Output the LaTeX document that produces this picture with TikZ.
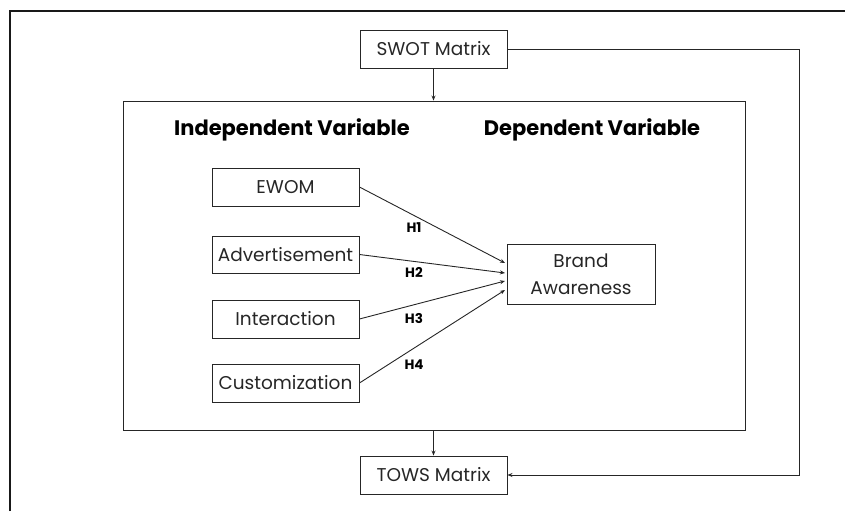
\documentclass[tikz,border=0pt]{standalone}
\usepackage{fontspec}
\setmainfont{Poppins}
\usetikzlibrary{arrows.meta,calc}
\begin{document}
\begin{tikzpicture}[x=1pt,y=-1pt,
  box/.style={draw=black!85,line width=0.9pt,rectangle,inner sep=0pt,minimum width=147pt,minimum height=38pt,font=\fontsize{18.5}{20}\selectfont,text=black!85},
  conn/.style={draw=black!85,line width=0.9pt,-{Stealth[length=5pt,width=4pt]}},
  hlab/.style={font=\bfseries\fontsize{13.5}{15}\selectfont},
  head/.style={font=\bfseries\fontsize{21}{24}\selectfont}]
\useasboundingbox (0,0) rectangle (845,511);
\draw[line width=1.8pt,black!90] (10,511) -- (10,11) -- (845,11);
\node[draw=black!85,line width=0.9pt,minimum width=622pt,minimum height=329pt,inner sep=0pt] (main) at (434,265.5) {};
\node[box] (swot) at (433.5,49) {SWOT Matrix};
\node[box] (tows) at (433.5,475) {TOWS Matrix};
\node[head] (ind) at (292,130) {Independent Variable};
\node[head] (dep) at (592,130) {Dependent Variable};
\node[box] (ewom) at (285.5,187) {EWOM};
\node[box,minimum height=37pt] (adv) at (285.5,254.5) {Advertisement};
\node[box] (inter) at (285.5,319) {Interaction};
\node[box] (cust) at (285.5,383) {Customization};
\node[box,minimum width=148pt,minimum height=60pt,align=center,font=\fontsize{18.5}{27}\selectfont] (brand) at (581,274) {Brand\\Awareness};
\coordinate (b1) at (505,263);
\coordinate (b2) at (505,273);
\coordinate (b3) at (505,281);
\coordinate (b4) at (505,290);
\draw[conn] (ewom.east) -- (b1);
\draw[conn] (adv.east) -- (b2);
\draw[conn] (inter.east) -- (b3);
\draw[conn] (cust.east) -- (b4);
\node[hlab] (h1) at (414,228) {H1};
\node[hlab] (h2) at (414,272) {H2};
\node[hlab] (h3) at (414,318) {H3};
\node[hlab] (h4) at (414,365) {H4};
\draw[conn] (swot.south) -- (swot.south |- main.north);
\draw[conn] (tows.north |- main.south) -- (tows.north);
\coordinate (corner) at (799,49);
\draw[conn] (swot.east) -- (corner) |- (tows.east);
\end{tikzpicture}
\end{document}
